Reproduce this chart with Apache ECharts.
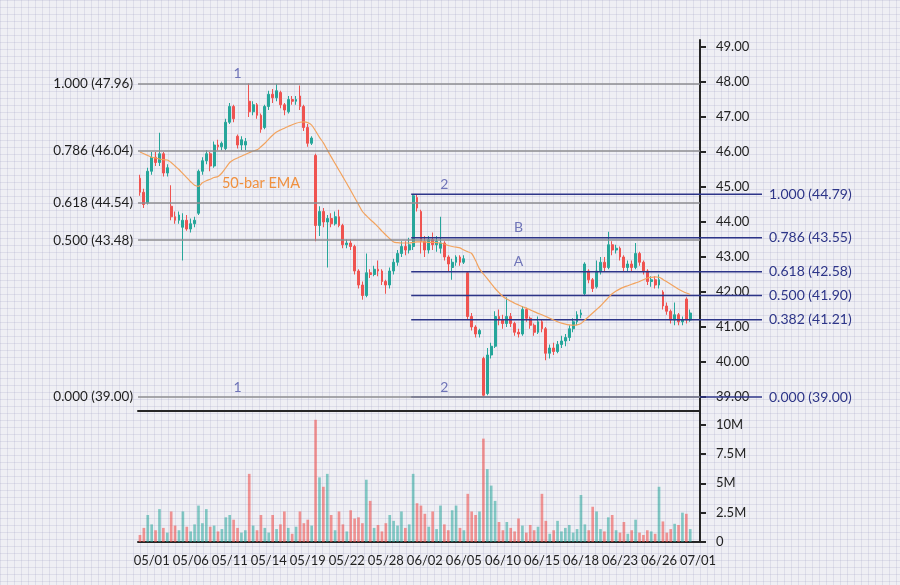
<!DOCTYPE html>
<html>
<head>
<meta charset="utf-8">
<script src="https://cdn.jsdelivr.net/npm/echarts@6/dist/echarts.min.js"></script>
<style>
  html, body { margin: 0; padding: 0; }
  body {
    background-color: #efeff4;
    background-image:
      linear-gradient(rgba(150,150,190,0.20) 1px, transparent 1px),
      linear-gradient(90deg, rgba(150,150,190,0.20) 1px, transparent 1px);
    background-size: 7px 7px;
  }
  #chart { width: 900px; height: 585px; }
</style>
</head>
<body>
<div id="chart"></div>
<script>
// bars: one category per bar, a date label every 10 bars
var barCount = 144;
var firstTick = 3;
var tickEvery = 10;
var tickLabels = ['05/01', '05/06', '05/11', '05/14', '05/19', '05/22', '05/28', '06/02',
                  '06/05', '06/10', '06/15', '06/18', '06/23', '06/26', '07/01'];

// [open, close, low, high]
var candles = [
  [45.25,44.85,44.75,45.35],[44.85,44.50,44.40,44.95],[44.55,45.45,44.50,45.55],[45.45,45.85,45.35,46.00],
  [45.85,45.70,45.60,46.00],[45.70,45.95,45.60,46.55],[45.95,45.40,45.30,46.00],[45.40,45.55,45.30,45.65],
  [44.45,44.15,44.05,45.05],[44.15,44.05,43.95,44.30],[44.05,44.20,43.95,44.30],[43.85,44.05,42.90,44.25],
  [44.05,43.80,43.75,44.20],[43.80,43.95,43.70,44.10],[43.95,44.05,43.85,44.15],[44.25,45.45,44.20,45.50],
  [45.45,45.75,45.35,45.85],[45.75,45.95,45.65,46.05],[45.95,45.60,45.45,46.00],[45.60,46.20,45.55,46.30],
  [46.20,46.15,46.05,46.35],[46.15,46.25,46.05,46.30],[46.10,46.85,46.05,46.95],[46.85,47.30,46.80,47.40],
  [47.30,46.95,46.85,47.35],[46.45,46.20,46.10,46.50],[46.20,46.35,46.05,46.45],[46.20,46.30,46.05,46.40],
  [47.45,47.15,47.00,47.96],[47.15,47.35,47.05,47.45],[47.35,47.05,46.95,47.40],[47.05,46.65,46.55,47.10],
  [46.70,47.30,46.65,47.35],[47.30,47.65,47.20,47.75],[47.65,47.55,47.40,47.80],[47.55,47.75,47.45,47.95],
  [47.70,47.35,47.25,47.75],[47.35,47.20,47.05,47.40],[47.15,47.50,47.10,47.60],[47.50,47.45,47.35,47.60],
  [47.45,47.50,47.35,47.60],[47.60,47.30,47.20,47.90],[47.30,46.70,46.60,47.35],[46.70,46.25,46.15,46.80],
  [46.25,46.40,46.20,46.45],[45.90,43.90,43.45,45.95],[43.90,44.30,43.60,44.45],[44.30,44.00,43.85,44.40],
  [44.00,44.10,42.70,44.20],[44.10,43.95,43.85,44.25],[43.95,44.15,43.90,44.30],[44.15,43.90,43.85,44.35],
  [43.90,43.35,43.25,43.95],[43.35,43.40,43.25,43.50],[43.40,43.30,43.20,43.50],[43.30,42.60,42.50,43.35],
  [42.60,42.20,42.10,42.65],[42.20,41.90,41.78,42.30],[41.90,42.55,41.85,43.10],[42.55,42.50,42.40,42.65],
  [42.50,42.65,42.45,42.75],[42.65,42.60,42.45,42.90],[42.60,42.30,42.20,42.65],[42.30,42.20,41.95,42.35],
  [42.20,42.60,42.10,42.70],[42.60,42.85,42.50,42.95],[42.85,43.10,42.75,43.20],[43.10,43.30,43.00,43.45],
  [43.30,43.20,43.05,43.45],[43.20,43.35,43.10,43.55],[43.30,44.75,43.20,44.80],[44.70,44.40,44.30,44.80],
  [44.30,43.45,43.10,44.35],[43.45,43.20,43.00,43.60],[43.20,43.50,43.10,43.60],[43.50,43.35,43.20,43.70],
  [43.35,43.45,43.15,43.60],[43.25,43.40,43.10,44.15],[43.40,43.00,42.90,43.45],[43.00,42.80,42.60,43.05],
  [42.70,42.85,42.35,42.95],[42.85,43.00,42.75,43.05],[43.00,42.85,42.75,43.05],[42.85,42.95,42.80,43.05],
  [42.55,41.30,41.20,42.60],[41.30,41.00,40.90,41.40],[41.00,40.80,40.70,41.05],[40.80,40.90,40.70,40.95],
  [40.10,39.05,39.00,40.15],[39.10,40.20,39.05,40.40],[40.20,40.45,40.10,40.55],[40.45,41.30,40.40,41.45],
  [41.30,41.20,41.05,41.50],[41.20,41.10,40.95,41.35],[41.10,41.30,41.00,41.85],[41.30,41.10,41.00,41.40],
  [41.10,40.85,40.75,41.15],[40.85,40.80,40.70,40.95],[40.80,41.50,40.75,41.60],[41.50,41.25,41.15,41.55],
  [41.25,41.05,40.95,41.30],[41.05,40.85,40.75,41.10],[40.85,41.15,40.80,41.30],[41.15,40.95,40.85,41.20],
  [40.95,40.25,40.05,41.00],[40.25,40.40,40.10,40.50],[40.40,40.30,40.20,40.55],[40.30,40.50,40.25,40.60],
  [40.50,40.60,40.40,40.75],[40.60,40.70,40.45,40.80],[40.70,40.95,40.60,41.05],[40.95,41.15,40.85,41.25],
  [41.15,41.35,41.05,41.45],[41.35,41.40,41.25,41.50],[41.95,42.80,41.90,42.85],[42.60,42.35,42.25,42.65],
  [42.35,42.10,42.00,42.40],[42.15,42.60,42.10,42.90],[42.60,42.85,42.50,43.00],[42.85,42.70,42.60,43.00],
  [42.70,43.35,42.65,43.72],[43.35,43.20,43.05,43.45],[43.20,43.25,43.10,43.35],[43.25,43.00,42.90,43.30],
  [43.00,42.70,42.60,43.05],[42.70,42.80,42.60,42.90],[42.80,42.70,42.60,42.90],[42.70,43.10,42.65,43.40],
  [43.10,42.85,42.75,43.15],[42.85,42.60,42.50,42.90],[42.60,42.30,42.20,42.65],[42.30,42.35,42.15,42.45],
  [42.35,42.20,42.10,42.45],[42.20,42.35,42.10,42.50],[42.00,41.60,41.50,42.05],[41.60,41.45,41.35,41.70],
  [41.45,41.20,41.10,41.50],[41.20,41.35,41.05,41.70],[41.35,41.15,41.05,41.40],[41.15,41.20,41.05,41.30],
  [41.80,41.20,41.10,41.85],[41.20,41.40,41.15,41.50]
];

// 50-bar EMA
var ema50 = [
  46.00,45.95,45.90,45.85,45.83,45.80,45.78,45.77,45.70,45.60,45.50,45.38,45.27,45.15,45.05,45.02,
  45.12,45.18,45.22,45.27,45.30,45.40,45.55,45.70,45.78,45.83,45.88,45.93,45.98,46.03,46.06,46.15,
  46.25,46.37,46.48,46.57,46.63,46.68,46.73,46.78,46.82,46.85,46.86,46.84,46.77,46.60,46.42,46.26,
  46.06,45.86,45.67,45.48,45.29,45.10,44.90,44.70,44.50,44.30,44.18,44.07,43.97,43.86,43.74,43.63,
  43.52,43.43,43.41,43.40,43.40,43.40,43.42,43.43,43.43,43.43,43.42,43.42,43.41,43.40,43.37,43.33,
  43.30,43.28,43.26,43.20,43.15,43.10,42.90,42.66,42.52,42.38,42.24,42.10,41.98,41.87,41.80,41.74,
  41.68,41.63,41.58,41.54,41.49,41.44,41.39,41.35,41.30,41.25,41.20,41.15,41.11,41.08,41.06,41.05,
  41.06,41.10,41.20,41.30,41.40,41.50,41.60,41.72,41.84,41.95,42.03,42.09,42.14,42.18,42.22,42.26,
  42.30,42.35,42.40,42.42,42.43,42.42,42.36,42.29,42.22,42.15,42.08,42.02,41.97,41.93
];

// volume, millions
var volume = [
  0.6,1.2,2.3,1.5,1.0,2.8,1.2,0.8,2.6,1.4,1.0,2.6,1.3,0.9,1.5,3.1,
  1.6,2.8,1.3,1.4,0.9,1.1,2.1,2.3,1.9,1.2,0.8,1.0,5.8,1.4,1.0,2.3,
  1.2,0.8,2.3,1.1,1.5,2.6,1.2,0.7,1.3,2.6,1.6,1.9,1.4,10.4,5.5,4.7,
  5.8,2.3,1.0,2.6,1.5,0.9,2.7,2.0,2.1,1.6,5.3,3.5,1.2,1.45,0.9,1.6,
  2.3,1.8,1.4,2.6,1.2,1.5,5.8,3.3,3.1,2.4,1.3,2.6,1.1,3.1,1.5,1.0,
  2.7,3.1,1.2,1.0,4.1,2.6,2.3,2.6,8.8,6.2,4.8,3.5,1.7,1.0,1.7,1.2,
  0.9,2.0,1.4,0.8,1.45,1.0,1.3,4.1,1.8,0.7,1.0,1.8,0.9,1.2,1.45,0.8,
  1.1,4.0,1.5,1.0,3.0,2.6,1.1,0.9,2.1,2.3,1.0,0.8,1.7,0.7,1.0,1.9,
  0.8,0.6,1.0,0.9,0.7,4.7,1.75,0.8,1.1,1.55,1.45,2.5,2.4,1.1
];

// fibonacci sets
var fib1Ratios = ['1.000', '0.786', '0.618', '0.500', '0.000'];
var fib1Levels = [47.96, 46.04, 44.54, 43.48, 39.00];
var fib2Ratios = ['1.000', '0.786', '0.618', '0.500', '0.382', '0.000'];
var fib2Levels = [44.79, 43.55, 42.58, 41.90, 41.21, 39.00];
var fib2StartBar = 70;

// small letters over the levels
var tagBars = [25, 25, 78, 78, 97, 97];
var tagLevels = [47.96, 39.00, 44.79, 39.00, 43.55, 42.58];
var tagTexts = ['1', '1', '2', '2', 'B', 'A'];

var UP = '#26a69a', DOWN = '#ef5350';
var NAVY = '#2d3588', TAG = '#6f74b8', ORANGE = '#f2a35e';
var FONT = 'Lato';

var categories = [];
var labelAt = {};
for (var i = 0; i < barCount; i++) categories.push('b' + i);
tickLabels.forEach(function (t, k) { labelAt[firstTick + k * tickEvery] = t; });
function isTick(idx) { return (idx - firstTick) % tickEvery === 0 && idx >= firstTick; }

var volData = volume.map(function (v, i) {
  var up = candles[i][1] >= candles[i][0];
  return { value: v, itemStyle: { color: up ? 'rgba(38,166,154,0.55)' : 'rgba(239,83,80,0.6)' } };
});

var myChart = echarts.init(document.getElementById('chart'));
var option = {
  animation: false,
  textStyle: { fontFamily: FONT },
  grid: [
    { left: 138, right: 200, top: 40, height: 371 },
    { left: 138, right: 200, top: 411, height: 131 }
  ],
  xAxis: [
    {
      type: 'category', gridIndex: 0, data: categories,
      axisLine: { show: true, lineStyle: { color: '#262626', width: 2 } },
      axisTick: { show: false }, axisLabel: { show: false }, splitLine: { show: false }
    },
    {
      type: 'category', gridIndex: 1, data: categories,
      axisLine: { lineStyle: { color: '#262626', width: 2 } },
      axisTick: { alignWithLabel: true, interval: isTick, length: 6, lineStyle: { color: '#262626', width: 2 } },
      axisLabel: {
        interval: isTick, color: '#222', fontSize: 13, fontFamily: FONT, margin: 12,
        formatter: function (v, idx) { return labelAt[idx] || ''; }
      }
    }
  ],
  yAxis: [
    {
      type: 'value', gridIndex: 0, position: 'right', min: 38.6, max: 49.2,
      splitLine: { show: false },
      axisLine: { show: true, lineStyle: { color: '#262626', width: 2 } },
      axisTick: { show: true, length: 6, customValues: [39, 40, 41, 42, 43, 44, 45, 46, 47, 48, 49],
                  lineStyle: { color: '#262626', width: 2 } },
      axisLabel: { color: '#222', fontSize: 13, fontFamily: FONT, margin: 16,
                   customValues: [39, 40, 41, 42, 43, 44, 45, 46, 47, 48, 49],
                   formatter: function (v) { return v.toFixed(2); } }
    },
    {
      type: 'value', gridIndex: 1, position: 'right', min: 0, max: 11.15, interval: 2.5,
      splitLine: { show: false },
      axisLine: { show: true, lineStyle: { color: '#262626', width: 2 } },
      axisTick: { show: true, length: 6, lineStyle: { color: '#262626', width: 2 } },
      axisLabel: { color: '#222', fontSize: 13, fontFamily: FONT, margin: 16,
                   showMaxLabel: false,
                   formatter: function (v) { return v === 0 ? '0' : v + 'M'; } }
    }
  ],
  series: [
    {
      name: 'price', type: 'candlestick', xAxisIndex: 0, yAxisIndex: 0,
      data: candles, barWidth: '60%', z: 2,
      itemStyle: { color: UP, color0: DOWN, borderColor: UP, borderColor0: DOWN, borderWidth: 1 },
      markLine: {
        silent: true, symbol: 'none', animation: false,
        lineStyle: { color: '#8c8c90', width: 1.5, type: 'solid' },
        label: {
          position: 'start', distance: 5, color: '#1e1e1e', fontSize: 13.5, fontFamily: FONT,
          formatter: function (p) { return p.name + ' (' + p.value.toFixed(2) + ')'; }
        },
        data: fib1Levels.map(function (v, k) { return { name: fib1Ratios[k], yAxis: v }; })
      }
    },
    {
      name: 'fib2', type: 'custom', xAxisIndex: 0, yAxisIndex: 0, z: 3, clip: false, silent: true,
      data: fib2Levels.map(function (v) { return [fib2StartBar, v]; }),
      renderItem: function (params, api) {
        var p = api.coord([api.value(0), api.value(1)]);
        var half = api.size([1, 0])[0] / 2;
        var x0 = p[0] - half;
        var x1 = params.coordSys.x + params.coordSys.width + 62;
        return {
          type: 'group',
          children: [
            { type: 'line', shape: { x1: x0, y1: p[1], x2: x1, y2: p[1] },
              style: { stroke: NAVY, lineWidth: 1.5 } },
            { type: 'text', x: x1 + 7, y: p[1],
              style: { text: fib2Ratios[params.dataIndex] + ' (' + fib2Levels[params.dataIndex].toFixed(2) + ')',
                       fill: NAVY, font: '14px ' + FONT, verticalAlign: 'middle', align: 'left' } }
          ]
        };
      }
    },
    {
      name: 'tags', type: 'custom', xAxisIndex: 0, yAxisIndex: 0, z: 4, clip: false, silent: true,
      data: tagBars.map(function (b, k) { return [b, tagLevels[k]]; }),
      renderItem: function (params, api) {
        var p = api.coord([api.value(0), api.value(1)]);
        return { type: 'text', x: p[0], y: p[1] - 3,
                 style: { text: tagTexts[params.dataIndex], fill: TAG, font: '14px ' + FONT,
                          align: 'center', verticalAlign: 'bottom' } };
      }
    },
    {
      name: '50-bar EMA', type: 'line', xAxisIndex: 0, yAxisIndex: 0, z: 4,
      data: ema50, symbol: 'none', smooth: 0.3,
      lineStyle: { color: ORANGE, width: 1.2 },
      markPoint: {
        symbol: 'circle', symbolSize: 0, silent: true,
        label: { show: true, color: '#f0903e', fontSize: 14.5, fontFamily: FONT,
                 position: 'right', distance: 0, formatter: '50-bar EMA' },
        data: [{ coord: [21, 45.11] }]
      }
    },
    {
      name: 'volume', type: 'bar', xAxisIndex: 1, yAxisIndex: 1,
      data: volData, barWidth: '68%'
    }
  ]
};

myChart.setOption(option);
window.addEventListener('resize', function () { myChart.resize(); });
</script>
</body>
</html>
